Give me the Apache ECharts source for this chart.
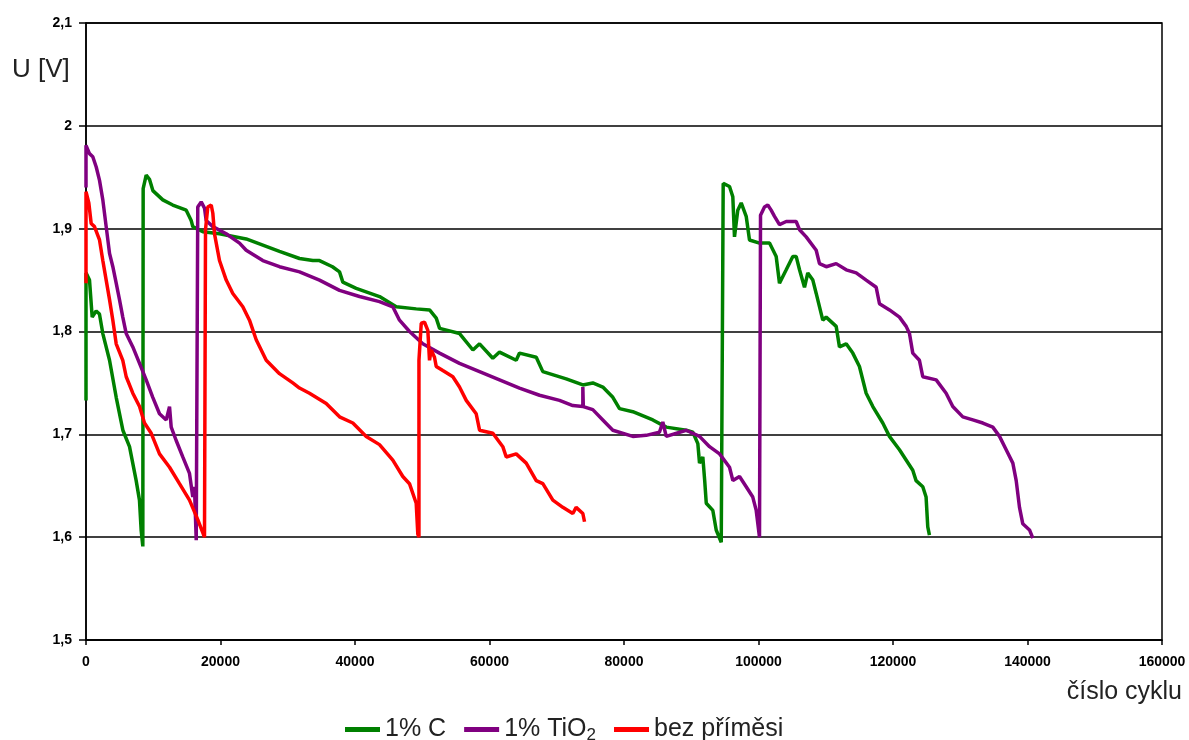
<!DOCTYPE html>
<html>
<head>
<meta charset="utf-8">
<script src="https://cdn.jsdelivr.net/npm/echarts@6/dist/echarts.min.js"></script>
<style>
html,body{margin:0;padding:0;background:#fff;}
#chart{width:1189px;height:740px;}
</style>
</head>
<body>
<div id="chart"></div>
<script>
const seriesNames = ['1% C', '1% TiO2', 'bez příměsi'];
const xTicks = [0, 20000, 40000, 60000, 80000, 100000, 120000, 140000, 160000];
const yTicks = [1.5, 1.6, 1.7, 1.8, 1.9, 2.0, 2.1];

const dataC = [
  [0,1.733],[0,1.857],[520,1.850],[920,1.814],[1510,1.820],[2000,1.817],[2500,1.798],[3500,1.772],
  [4490,1.736],[5480,1.704],[6470,1.688],[7460,1.655],[7950,1.636],[8200,1.607],[8450,1.591],
  [8500,1.939],[8950,1.952],[9440,1.948],[9940,1.937],[11420,1.928],[12900,1.923],[14900,1.918],
  [15640,1.908],[15880,1.902],[17370,1.897],[19850,1.895],[23820,1.890],[28770,1.878],[31750,1.871],
  [33730,1.869],[34720,1.869],[36650,1.863],[37700,1.858],[38190,1.848],[40180,1.842],[43650,1.834],
  [46130,1.824],[49100,1.822],[51090,1.821],[52080,1.813],[52580,1.803],[55550,1.798],[57530,1.782],
  [58520,1.788],[60490,1.774],[61490,1.780],[63970,1.772],[64460,1.779],[66950,1.775],[67930,1.761],
  [71410,1.754],[73880,1.748],[75360,1.750],[76850,1.746],[78340,1.736],[79330,1.725],[81310,1.722],
  [84290,1.714],[86280,1.707],[89250,1.704],[90240,1.702],[90980,1.691],[91230,1.672],[91720,1.678],
  [92000,1.655],[92230,1.633],[93210,1.626],[93710,1.607],[94460,1.595],[94750,1.595],
  [94750,1.944],[95690,1.941],[96180,1.931],[96430,1.892],[96920,1.918],[97430,1.925],[98170,1.912],
  [98660,1.889],[100150,1.886],[101640,1.886],[102630,1.873],[103120,1.847],[104120,1.860],
  [105100,1.873],[105600,1.873],[106100,1.860],[106840,1.843],[107330,1.857],[108080,1.850],
  [108580,1.837],[109560,1.811],[110060,1.814],[111550,1.805],[112040,1.785],[113040,1.788],
  [114020,1.779],[115010,1.766],[116010,1.740],[117000,1.727],[118480,1.711],[119470,1.698],
  [120960,1.685],[121950,1.675],[122940,1.665],[123430,1.655],[124430,1.649],[124920,1.639],
  [125170,1.610],[125420,1.602]
];

const dataTiO2 = [
  [0,1.940],[0,1.981],[520,1.973],[1010,1.970],[1520,1.960],[2010,1.947],[2500,1.928],[3000,1.902],
  [3500,1.876],[3990,1.863],[4490,1.847],[4980,1.831],[5470,1.814],[5980,1.798],[6960,1.785],
  [7960,1.769],[8950,1.753],[9930,1.736],[10930,1.720],[11930,1.714],[12420,1.727],[12670,1.707],
  [13410,1.694],[14390,1.678],[15390,1.662],[15880,1.639],[16130,1.649],[16390,1.597],[16550,1.597],
  [16620,1.921],[17130,1.926],[17620,1.920],[17870,1.908],[18860,1.902],[20850,1.895],[22830,1.886],
  [23820,1.879],[26290,1.869],[28770,1.863],[31750,1.858],[34720,1.850],[37700,1.840],[40670,1.834],
  [43640,1.829],[45620,1.824],[46620,1.811],[48110,1.800],[50080,1.788],[52570,1.779],[55540,1.769],
  [58520,1.761],[61490,1.753],[64460,1.745],[67440,1.738],[70410,1.733],[72390,1.728],[73880,1.727],
  [73880,1.746],[73950,1.727],[75360,1.724],[76850,1.714],[78340,1.704],[81310,1.698],[83300,1.699],
  [85270,1.702],[85770,1.712],[86280,1.698],[89250,1.704],[91230,1.698],[92720,1.688],[94210,1.681],
  [95690,1.668],[96190,1.655],[97180,1.659],[98170,1.649],[99150,1.639],[99660,1.626],[100150,1.600],
  [100300,1.600],[100300,1.913],[100890,1.921],[101380,1.923],[101880,1.918],[102380,1.912],
  [103120,1.904],[104120,1.907],[105600,1.907],[106100,1.899],[107090,1.892],[108580,1.879],
  [109070,1.866],[110070,1.863],[111550,1.866],[113040,1.860],[114530,1.857],[116010,1.850],
  [117500,1.843],[117990,1.827],[119480,1.821],[120960,1.814],[121960,1.805],[122450,1.798],
  [122940,1.779],[123930,1.772],[124430,1.756],[126420,1.753],[127900,1.740],[128890,1.727],
  [130380,1.717],[131870,1.714],[133360,1.711],[134840,1.707],[135840,1.698],[136830,1.685],
  [137820,1.672],[138320,1.655],[138810,1.629],[139300,1.613],[140300,1.607],[140790,1.599]
];

const dataBez = [
  [0,1.847],[0,1.936],[420,1.925],[770,1.905],[1260,1.902],[2010,1.889],[2500,1.869],[3000,1.850],
  [3500,1.831],[3990,1.811],[4490,1.788],[5470,1.772],[5980,1.756],[6960,1.740],[7960,1.727],
  [8700,1.711],[9700,1.701],[10930,1.681],[12420,1.668],[13900,1.652],[15390,1.636],[16620,1.617],
  [17620,1.600],[17770,1.600],[17770,1.899],[18110,1.921],[18620,1.923],[18860,1.915],[19110,1.895],
  [19850,1.869],[20850,1.850],[21830,1.837],[23320,1.824],[24310,1.811],[25310,1.792],[26800,1.772],
  [28770,1.759],[30750,1.750],[31750,1.745],[33230,1.740],[35720,1.730],[37700,1.717],[39680,1.711],
  [41670,1.698],[43640,1.690],[45620,1.675],[47110,1.659],[48100,1.652],[49100,1.633],[49340,1.603],
  [49510,1.600],[49510,1.772],[49850,1.808],[50340,1.809],[50830,1.801],[51080,1.772],[51330,1.782],
  [51820,1.775],[52080,1.766],[53060,1.762],[54550,1.756],[55540,1.746],[56540,1.733],[58020,1.720],
  [58520,1.704],[60500,1.701],[61980,1.688],[62490,1.678],[63970,1.681],[65460,1.672],[66950,1.655],
  [67930,1.652],[69420,1.636],[70900,1.629],[72390,1.623],[72880,1.629],[73880,1.623],[74130,1.615]
];

const colors = ['#008000', '#800080', '#ff0000'];
const seriesData = [dataC, dataTiO2, dataBez];

const chart = echarts.init(document.getElementById('chart'), null, {renderer: 'canvas'});
const tickFont = {fontFamily: 'Liberation Sans, Arial, sans-serif', fontWeight: 'bold', fontSize: 14, color: '#000'};

chart.setOption({
  animation: false,
  backgroundColor: '#fff',
  grid: {left: 86, right: 27, top: 23, bottom: 100, show: true, borderColor: '#000', borderWidth: 1.5, backgroundColor: 'transparent'},
  xAxis: {
    type: 'value', min: xTicks[0], max: xTicks[xTicks.length - 1], interval: 20000,
    axisLine: {show: true, lineStyle: {color: '#000', width: 1.5}},
    axisTick: {show: true, length: 5, lineStyle: {color: '#000', width: 1.5}},
    axisLabel: Object.assign({margin: 15, formatter: v => String(v)}, tickFont),
    splitLine: {show: false}
  },
  yAxis: {
    type: 'value', min: yTicks[0], max: yTicks[yTicks.length - 1], interval: 0.1,
    axisLine: {show: true, lineStyle: {color: '#000', width: 1.5}},
    axisTick: {show: true, length: 7, lineStyle: {color: '#000', width: 1.5}},
    axisLabel: Object.assign({margin: 14, formatter: v => String(Number(v.toFixed(1))).replace('.', ',')}, tickFont),
    splitLine: {show: true, lineStyle: {color: '#000', width: 1.5}}
  },
  legend: {
    data: seriesNames,
    left: 340, top: 712,
    icon: 'rect', itemWidth: 35, itemHeight: 5, itemGap: 18,
    textStyle: {
      fontFamily: 'Liberation Sans, Arial, sans-serif', fontSize: 25, color: '#222',
      rich: {
        n: {fontFamily: 'Liberation Sans, Arial, sans-serif', fontSize: 25, color: '#222'},
        sub: {fontFamily: 'Liberation Sans, Arial, sans-serif', fontSize: 17, color: '#222', padding: [12, 0, 0, 0]}
      }
    },
    formatter: name => name === '1% TiO2' ? '{n|1% TiO}{sub|2}' : '{n|' + name + '}'
  },
  graphic: [
    {type: 'text', left: 12, top: 57, style: {text: 'U [V]', fontFamily: 'Liberation Sans, Arial, sans-serif', fontSize: 26, fill: '#222'}},
    {type: 'text', right: 7, top: 680, style: {text: 'číslo cyklu', fontFamily: 'Liberation Sans, Arial, sans-serif', fontSize: 25, fill: '#222'}}
  ],
  series: seriesNames.map((name, i) => ({
    name: name, type: 'line', data: seriesData[i], showSymbol: false, symbol: 'none',
    lineStyle: {color: colors[i], width: 3.5}, itemStyle: {color: colors[i]}, z: 3 + i
  }))
});
</script>
</body>
</html>
